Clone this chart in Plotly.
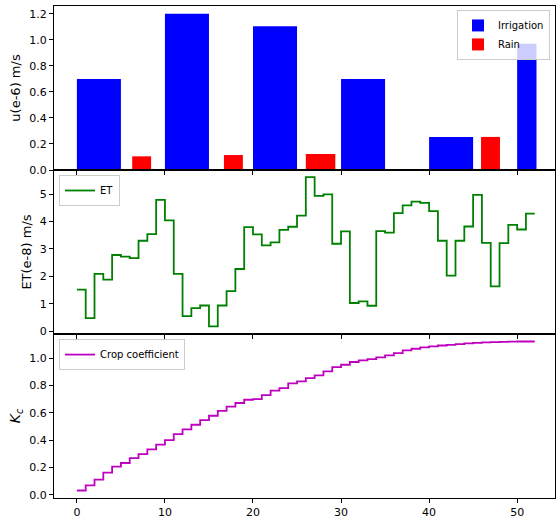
import plotly.graph_objects as go
from plotly.subplots import make_subplots

# ---- data ----
irrigation_start = [0, 10, 20, 30, 40, 50]
irrigation_days = [5, 5, 5, 5, 5, 2.2]
irrigation = [0.70, 1.20, 1.105, 0.70, 0.254, 0.97]

rain_start = [6.28, 16.7, 26.0, 45.9]
rain_days = [2.15, 2.15, 3.35, 2.15]
rain = [0.105, 0.115, 0.123, 0.254]

days = list(range(0, 53))
et = [1.52, 0.48, 2.09, 1.88, 2.78, 2.72, 2.67, 3.30, 3.54, 4.79,
      4.04, 2.09, 0.55, 0.84, 0.94, 0.18, 0.94, 1.46, 2.27, 3.80,
      3.53, 3.13, 3.24, 3.70, 3.81, 4.22, 5.62, 4.94, 4.99, 3.19,
      3.64, 1.03, 1.09, 0.93, 3.65, 3.60, 4.31, 4.59, 4.73, 4.68,
      4.38, 3.30, 2.03, 3.30, 3.82, 4.97, 3.22, 1.64, 3.21, 3.88,
      3.71, 4.29, 4.29]
kc = [0.031, 0.068, 0.110, 0.161, 0.205, 0.232, 0.268, 0.297, 0.332, 0.366,
      0.400, 0.444, 0.478, 0.512, 0.546, 0.578, 0.614, 0.644, 0.671, 0.695,
      0.700, 0.729, 0.761, 0.780, 0.814, 0.829, 0.853, 0.873, 0.902, 0.934,
      0.951, 0.971, 0.983, 0.992, 1.005, 1.019, 1.036, 1.056, 1.068, 1.078,
      1.085, 1.092, 1.097, 1.102, 1.107, 1.111, 1.114, 1.117, 1.119, 1.120,
      1.121, 1.121, 1.121]

x_ticks = [0, 10, 20, 30, 40, 50]

FONT = "DejaVu Sans"

fig = make_subplots(rows=3, cols=1, shared_xaxes=True, vertical_spacing=0)

fig.add_trace(go.Bar(x=irrigation_start, y=irrigation, width=irrigation_days, offset=0,
                     marker=dict(color="#0000ff", line=dict(width=0)),
                     name="Irrigation", legend="legend"), row=1, col=1)
fig.add_trace(go.Bar(x=rain_start, y=rain, width=rain_days, offset=0,
                     marker=dict(color="#ff0000", line=dict(width=0)),
                     name="Rain", legend="legend"), row=1, col=1)
fig.add_trace(go.Scatter(x=days, y=et, mode="lines", line=dict(color="green", width=1.8, shape="hv"),
                         name="ET", legend="legend2"), row=2, col=1)
fig.add_trace(go.Scatter(x=days, y=kc, mode="lines", line=dict(color="#bf00bf", width=1.8, shape="hv"),
                         name="Crop coefficient", legend="legend3"), row=3, col=1)

axis_common = dict(showline=True, mirror=True, linecolor="black", linewidth=1,
                   ticks="outside", ticklen=4, tickwidth=1, tickcolor="black",
                   showgrid=False, zeroline=False,
                   tickfont=dict(family=FONT, size=11, color="black"))

fig.update_xaxes(**axis_common, range=[-2.6, 54.3], tickvals=x_ticks)
fig.update_yaxes(**axis_common)

fig.update_yaxes(range=[0, 1.26], tickvals=[0, 0.2, 0.4, 0.6, 0.8, 1.0, 1.2], tickformat=".1f",
                 title=dict(text="u(e-6) m/s", font=dict(family=FONT, size=13, color="black"), standoff=5),
                 row=1, col=1)
fig.update_yaxes(range=[-0.1, 5.88], tickvals=[0, 1, 2, 3, 4, 5],
                 title=dict(text="ET(e-8) m/s", font=dict(family=FONT, size=13, color="black"), standoff=5),
                 row=2, col=1)
fig.update_yaxes(range=[-0.024, 1.176], tickvals=[0, 0.2, 0.4, 0.6, 0.8, 1.0], tickformat=".1f",
                 title=dict(text="<i>K<sub>c</sub></i>", font=dict(family=FONT, size=14, color="black"), standoff=5),
                 row=3, col=1)

leg_common = dict(bgcolor="rgba(255,255,255,0.8)", bordercolor="#cccccc", borderwidth=1,
                  font=dict(family=FONT, size=10, color="black"), tracegroupgap=0,
                  itemwidth=30, xref="paper", yref="paper")

fig.update_layout(
    width=556, height=519,
    margin=dict(l=54, r=1, t=6, b=21),
    plot_bgcolor="white", paper_bgcolor="white",
    barmode="overlay",
    showlegend=True,
    legend=dict(**leg_common, x=0.99, y=0.992, xanchor="right", yanchor="top"),
    legend2=dict(**leg_common, x=0.01, y=0.6565, xanchor="left", yanchor="top"),
    legend3=dict(**leg_common, x=0.01, y=0.323, xanchor="left", yanchor="top"),
    font=dict(family=FONT, color="black"),
)

fig.write_html("out.html", config={"displayModeBar": False},
               post_script="document.body.style.margin='0';document.body.style.overflow='hidden';")
